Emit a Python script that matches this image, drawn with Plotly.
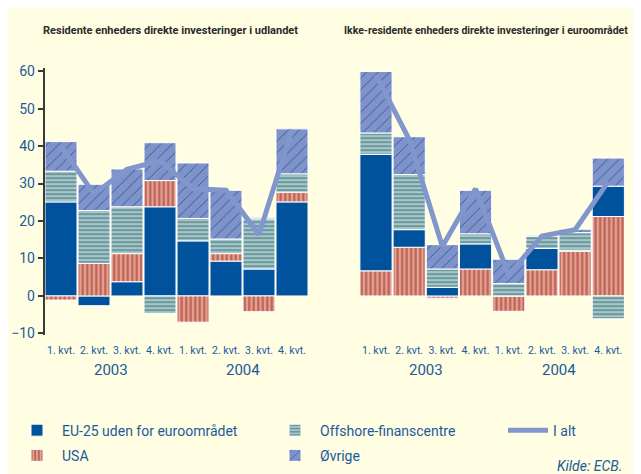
import plotly.graph_objects as go

quarters = ["1. kvt.", "2. kvt.", "3. kvt.", "4. kvt.", "1. kvt.", "2. kvt.", "3. kvt.", "4. kvt."]
years = ["2003", "2004"]
titles = ["Residente enheders direkte investeringer i udlandet",
          "Ikke-residente enheders direkte investeringer i euroområdet"]
series_names = ["EU-25 uden for euroområdet", "USA", "Offshore-finanscentre", "Øvrige", "I alt"]

# Panel 1: Residente enheders direkte investeringer i udlandet
eu_out = [25.1, -2.6, 3.8, 23.8, 14.7, 9.3, 7.2, 25.1]
usa_out = [-1.1, 8.7, 7.5, 7.0, -7.0, 2.0, -4.2, 2.6]
off_out = [8.2, 14.1, 12.5, -4.7, 6.0, 3.9, 13.4, 4.9]
ovr_out = [7.9, 7.0, 10.1, 10.1, 14.8, 13.0, 0.4, 12.0]
tot_out = [40.0, 27.2, 33.8, 36.1, 28.6, 28.2, 16.4, 44.4]

# Panel 2: Ikke-residente enheders direkte investeringer i euroområdet
eu_in = [31.1, 4.7, 2.3, 6.7, 0.0, 5.7, 0.3, 8.1]
usa_in = [6.7, 13.0, -0.6, 7.2, -4.1, 7.0, 11.9, 21.2]
off_in = [5.7, 14.7, 4.9, 2.7, 3.3, 3.2, 4.7, -6.1]
ovr_in = [16.4, 10.1, 6.5, 11.6, 6.5, 0.3, 0.9, 7.5]
tot_in = [59.0, 41.8, 13.2, 28.6, 5.7, 16.0, 17.7, 30.5]

xpos = list(range(len(quarters)))

FONT = "Roboto, Liberation Sans, sans-serif"
BLUE_TXT = "#1c5a9c"
BG = "#fffde2"
C_EU = "#00529c"
C_LINE = "#8196cc"

styles = {
    "EU-25 uden for euroområdet": dict(color=C_EU),
    "USA": dict(color="#e2a392", pattern=dict(shape="|", bgcolor="#e2a392", fgcolor="#bf6257",
                                             size=4.5, solidity=0.5, fillmode="replace")),
    "Offshore-finanscentre": dict(color="#a9c6c6", pattern=dict(shape="-", bgcolor="#a9c6c6", fgcolor="#5a8d97",
                                                               size=4, solidity=0.4, fillmode="replace")),
    "Øvrige": dict(color="#7f93c9", pattern=dict(shape="/", bgcolor="#7f93c9", fgcolor="#1f52a0",
                                                size=8, solidity=0.1, fillmode="replace")),
}
legend_of = {"EU-25 uden for euroområdet": "legend", "USA": "legend",
             "Offshore-finanscentre": "legend2", "Øvrige": "legend2", "I alt": "legend3"}

fig = go.Figure()

def add_panel(order, data, total, xa, ya, show):
    for name in order:
        st = styles[name]
        marker = dict(color=st["color"], line=dict(color="white", width=1))
        if "pattern" in st:
            marker["pattern"] = st["pattern"]
        fig.add_trace(go.Bar(x=xpos, y=data[name], name=name, marker=marker, legendgroup=name,
                             xaxis=xa, yaxis=ya, showlegend=show, legend=legend_of[name]))
    fig.add_trace(go.Scatter(x=xpos, y=total, name="I alt", mode="lines", legendgroup="I alt",
                             line=dict(color=C_LINE, width=5), xaxis=xa, yaxis=ya,
                             showlegend=show, legend=legend_of["I alt"]))

data_out = {"EU-25 uden for euroområdet": eu_out, "USA": usa_out,
            "Offshore-finanscentre": off_out, "Øvrige": ovr_out}
data_in = {"EU-25 uden for euroområdet": eu_in, "USA": usa_in,
           "Offshore-finanscentre": off_in, "Øvrige": ovr_in}

add_panel(["EU-25 uden for euroområdet", "USA", "Offshore-finanscentre", "Øvrige"],
          data_out, tot_out, "x", "y", True)
add_panel(["USA", "EU-25 uden for euroområdet", "Offshore-finanscentre", "Øvrige"],
          data_in, tot_in, "x2", "y2", False)

W, H = 641, 474
ydom = [1 - 329.9 / H, 1 - 56.6 / H]
yr = [-10.3, 60.8]

xcommon = dict(range=[-0.5, 7.5], tickvals=xpos, ticktext=quarters, showgrid=False,
               zeroline=False, showline=False, ticks="", ticklabelstandoff=8, tickangle=0,
               tickfont=dict(family=FONT, size=10.5, color=BLUE_TXT), fixedrange=True)

LEG_Y = 1 - 412 / H
legfont = dict(family=FONT, size=14, color=BLUE_TXT)
fig.update_layout(
    width=W, height=H,
    margin=dict(l=0, r=0, t=0, b=0),
    paper_bgcolor=BG, plot_bgcolor=BG,
    barmode="relative", bargap=0.03,
    font=dict(family=FONT, color=BLUE_TXT),
    xaxis=dict(domain=[36.5 / W, 300.5 / W], **xcommon),
    xaxis2=dict(domain=[351.4 / W, 616.9 / W], **xcommon),
    yaxis=dict(domain=ydom, range=yr, tickvals=[-10, 0, 10, 20, 30, 40, 50, 60],
               showgrid=False, zeroline=False, showline=True, linecolor="#3a3a3a", linewidth=1.5,
               ticks="outside", ticklen=5, tickcolor="#3a3a3a", tickwidth=1.5,
               tickfont=dict(family=FONT, size=14, color=BLUE_TXT), fixedrange=True),
    yaxis2=dict(domain=ydom, range=yr, anchor="x2", visible=False, fixedrange=True),
    legend=dict(x=4 / W, y=LEG_Y, xanchor="left", yanchor="top", bgcolor="rgba(0,0,0,0)",
                font=legfont, tracegroupgap=4, itemwidth=40),
    legend2=dict(x=262 / W, y=LEG_Y, xanchor="left", yanchor="top", bgcolor="rgba(0,0,0,0)",
                 font=legfont, tracegroupgap=4, itemwidth=40),
    legend3=dict(x=495 / W, y=LEG_Y, xanchor="left", yanchor="top", bgcolor="rgba(0,0,0,0)",
                 font=legfont, itemwidth=40),
)

annotations = []
for i, yv in enumerate(years):
    for xa in ["x", "x2"]:
        annotations.append(dict(text=yv, x=4 * i + 1.5, xref=xa, y=1 - 366 / H, yref="paper",
                                xanchor="center", yanchor="middle", showarrow=False,
                                font=dict(family=FONT, size=15, color=BLUE_TXT)))
annotations.append(dict(text="<b>" + titles[0] + "</b>", x=162 / W, y=1 - 18 / H, xref="paper", yref="paper",
                        xanchor="center", yanchor="middle", showarrow=False,
                        font=dict(family=FONT, size=11, color="#2a2a2a")))
annotations.append(dict(text="<b>" + titles[1] + "</b>", x=478 / W, y=1 - 18 / H, xref="paper", yref="paper",
                        xanchor="center", yanchor="middle", showarrow=False,
                        font=dict(family=FONT, size=10.5, color="#2a2a2a")))
annotations.append(dict(text="<i>Kilde: ECB.</i>", x=616 / W, y=1 - 465 / H, xref="paper", yref="paper",
                        xanchor="right", yanchor="middle", showarrow=False,
                        font=dict(family=FONT, size=14, color=BLUE_TXT)))
fig.update_layout(annotations=annotations)

fig.write_html("out.html")
